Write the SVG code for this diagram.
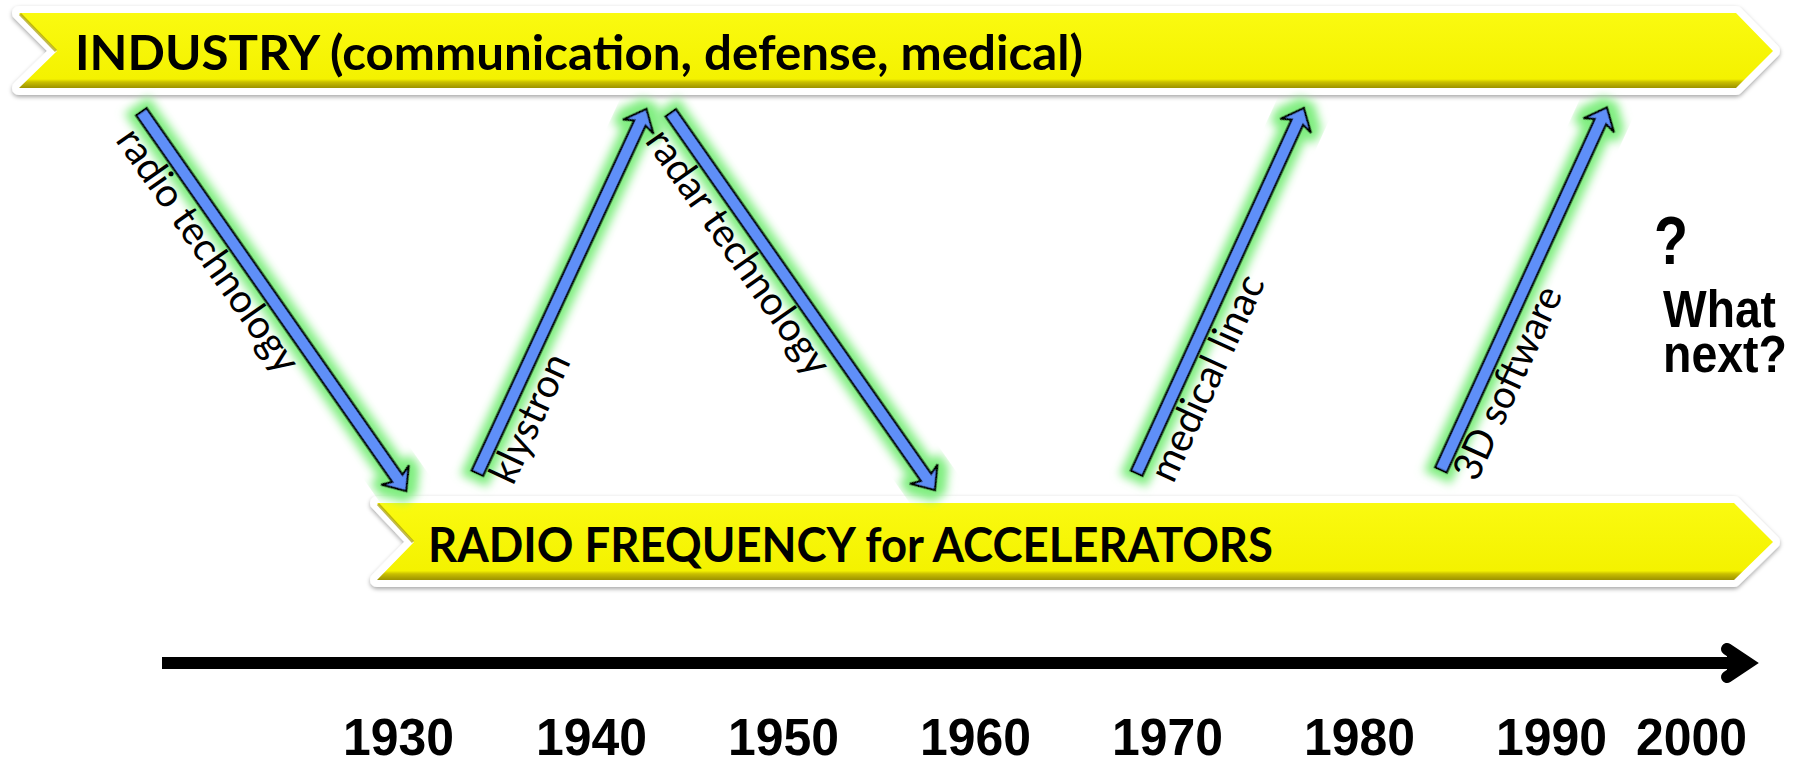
<svg xmlns="http://www.w3.org/2000/svg" width="1796" height="759" viewBox="0 0 1796 759">
<style>
.band-text{font-family:Lato,"Open Sans","Liberation Sans",sans-serif;font-weight:bold;fill:#000}
.lbl{font-family:Lato,"Open Sans","Liberation Sans",sans-serif;font-size:40px;fill:#000}
.arrow{fill:#5F8FF8;stroke:#000;stroke-width:2.4;stroke-linejoin:miter;filter:url(#glow)}
.year{font-family:"Liberation Sans",Arial,sans-serif;font-weight:bold;font-size:51px;fill:#000}
.q{font-family:"Liberation Sans",Arial,sans-serif;font-weight:bold;fill:#000}
.outer{fill:#fff;stroke:#fff;stroke-width:14;stroke-linejoin:round;filter:url(#shadow)}
.inner{fill:url(#yel)}
</style>
<defs>
<filter id="glow" x="-30%" y="-30%" width="160%" height="160%">
<feMorphology in="SourceAlpha" operator="dilate" radius="7" result="d"/>
<feGaussianBlur in="d" stdDeviation="5" result="b"/>
<feFlood flood-color="#80EE80"/>
<feComposite in2="b" operator="in" result="g"/>
<feMerge><feMergeNode in="g"/><feMergeNode in="SourceGraphic"/></feMerge>
</filter>
<filter id="shadow" x="-5%" y="-30%" width="110%" height="160%">
<feDropShadow dx="0" dy="2" stdDeviation="2" flood-color="#000" flood-opacity="0.35"/>
</filter>
<linearGradient id="yel" x1="0" y1="0" x2="0" y2="1">
<stop offset="0" stop-color="#FAFA10"/>
<stop offset="0.88" stop-color="#F4F200"/>
<stop offset="0.92" stop-color="#C9BF00"/>
<stop offset="1" stop-color="#9C9200"/>
</linearGradient>
</defs>

<g id="industry">
<polygon class="outer" points="19,13 1736,13 1773,51 1736,88 19,88 57,51"/>
<polygon class="inner" points="19,13 1736,13 1773,51 1736,88 19,88 57,51"/>
<polyline points="20,14 56,51" fill="none" stroke="#A89C00" stroke-width="3" opacity="0.7"/>
<text class="band-text" x="75" y="70" font-size="47" textLength="1008" lengthAdjust="spacingAndGlyphs">INDUSTRY (communication, defense, medical)</text>
</g>

<g id="rf">
<polygon class="outer" points="377,503 1734,503 1773,542 1734,580 377,580 414,542"/>
<polygon class="inner" points="377,503 1734,503 1773,542 1734,580 377,580 414,542"/>
<polyline points="378,504 413,542" fill="none" stroke="#A89C00" stroke-width="3" opacity="0.7"/>
<text class="band-text" x="428" y="562" font-size="47" textLength="845" lengthAdjust="spacingAndGlyphs">RADIO FREQUENCY for ACCELERATORS</text>
</g>

<g id="connectors">
<g id="radio-technology" transform="translate(141.3,111.7) rotate(55.07)">
<path class="arrow" d="M0,-6.5 H447 L443,-17 L463,0 L443,17 L447,6.5 H0 Z"/>
<text class="lbl" x="8" y="38" textLength="288" lengthAdjust="spacingAndGlyphs">radio technology</text>
</g>
<g id="klystron" transform="translate(477.3,473.3) rotate(-65.1)">
<path class="arrow" d="M0,-6.5 H386 L382,-17 L402,0 L382,17 L386,6.5 H0 Z"/>
<text class="lbl" x="3" y="38" textLength="138" lengthAdjust="spacingAndGlyphs">klystron</text>
</g>
<g id="radar-technology" transform="translate(670.7,112.7) rotate(55.0)">
<path class="arrow" d="M0,-6.5 H445 L441,-17 L461,0 L441,17 L445,6.5 H0 Z"/>
<text class="lbl" x="8" y="38" textLength="290" lengthAdjust="spacingAndGlyphs">radar technology</text>
</g>
<g id="medical-linac" transform="translate(1136.6,473.3) rotate(-65.4)">
<path class="arrow" d="M0,-6.5 H386 L382,-17 L402,0 L382,17 L386,6.5 H0 Z"/>
<text class="lbl" x="5" y="38" textLength="222" lengthAdjust="spacingAndGlyphs">medical linac</text>
</g>
<g id="3d-software" transform="translate(1440.9,470) rotate(-65.4)">
<path class="arrow" d="M0,-6.5 H383 L379,-17 L399,0 L379,17 L383,6.5 H0 Z"/>
<text class="lbl" x="3" y="38" textLength="208" lengthAdjust="spacingAndGlyphs">3D software</text>
</g>
</g>

<g id="what-next">
<text class="q" x="1654" y="264" font-size="68" textLength="34" lengthAdjust="spacingAndGlyphs">?</text>
<text class="q" x="1663" y="327" font-size="51" textLength="113" lengthAdjust="spacingAndGlyphs">What</text>
<text class="q" x="1663" y="372" font-size="51" textLength="124" lengthAdjust="spacingAndGlyphs">next?</text>
</g>

<g id="timeline">
<rect x="162" y="657" width="1575" height="12" fill="#000"/>
<polygon points="1727,649 1748,663 1727,677" fill="#000"/>
<polyline points="1727,649 1748,663 1727,677" fill="none" stroke="#000" stroke-width="12" stroke-linecap="round" stroke-linejoin="miter"/>
</g>

<g id="years">
<text class="year" x="343" y="755" textLength="111" lengthAdjust="spacingAndGlyphs">1930</text>
<text class="year" x="536" y="755" textLength="111" lengthAdjust="spacingAndGlyphs">1940</text>
<text class="year" x="728" y="755" textLength="111" lengthAdjust="spacingAndGlyphs">1950</text>
<text class="year" x="920" y="755" textLength="111" lengthAdjust="spacingAndGlyphs">1960</text>
<text class="year" x="1112" y="755" textLength="111" lengthAdjust="spacingAndGlyphs">1970</text>
<text class="year" x="1304" y="755" textLength="111" lengthAdjust="spacingAndGlyphs">1980</text>
<text class="year" x="1496" y="755" textLength="111" lengthAdjust="spacingAndGlyphs">1990</text>
<text class="year" x="1636" y="755" textLength="111" lengthAdjust="spacingAndGlyphs">2000</text>
</g>
</svg>
